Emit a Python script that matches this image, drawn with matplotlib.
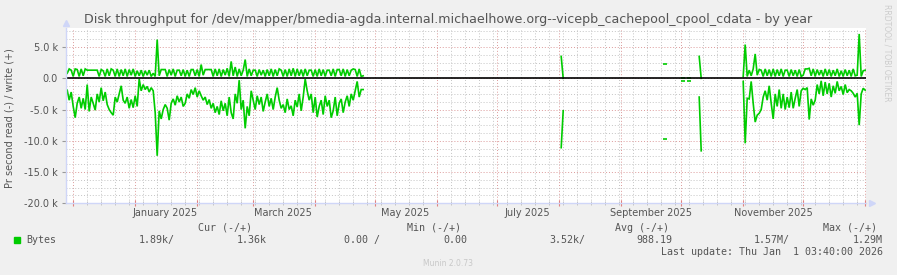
import numpy as np
import matplotlib.pyplot as plt
import matplotlib.dates as mdates
from matplotlib.patches import Rectangle
from matplotlib.ticker import MultipleLocator

W, H = 897, 275

# daily averages in k bytes/s, read is drawn below zero
start1 = "2024-11-28"
write1 = [0.8, 1.5, 1.3, 0.3, 1.5, 1.4, 0.3, 1.5, 0.4, 1.5,
          1.3, 1.3, 1.3, 1.3, 1.3, 1.3, 0.3, 1.4, 1.2, 0.3,
          1.5, 0.4, 1.5, 1.3, 0.3, 1.5, 0.3, 1.4, 0.4, 1.5,
          0.3, 1.4, 0.5, 1.5, 0.3, 1.2, 0.4, 1.3, 0.3, 1.2,
          0.5, 1.3, 0.3, 0.8, 0.3, 6.2, 0.4, 1.4, 1.4, 1.4,
          0.3, 1.4, 0.5, 1.5, 0.3, 1.3, 1.3, 0.4, 1.4, 0.3,
          1.3, 0.3, 1.4, 1.4, 0.4, 1.4, 0.3, 2.2, 0.5, 1.4,
          1.4, 1.4, 1.4, 0.3, 1.5, 0.4, 1.5, 0.3, 1.4, 0.5,
          1.6, 0.3, 2.7, 0.4, 1.8, 0.3, 1.5, 0.4, 1.3, 3.0,
          0.3, 1.5, 0.4, 1.3, 1.3, 0.3, 1.4, 0.5, 1.3, 0.3,
          1.4, 0.4, 1.5, 0.3, 1.4, 0.4, 1.5, 1.3, 0.3, 1.4,
          0.3, 1.5, 0.4, 1.6, 0.3, 1.5, 0.4, 1.4, 0.3, 1.5,
          0.4, 1.3, 1.3, 0.3, 1.4, 0.3, 1.5, 0.4, 1.4, 0.3,
          1.3, 1.3, 0.4, 1.5, 0.3, 1.4, 1.4, 0.4, 1.5, 0.3,
          1.4, 0.4, 1.3, 1.5, 1.4, 0.3, 1.5, 0.3, 0.4]
read1 = [1.9, 3.5, 2.2, 4.5, 6.3, 4.0, 3.0, 4.8, 3.2, 5.0,
         1.0, 5.3, 3.0, 4.0, 5.1, 2.5, 3.8, 1.5, 3.6, 2.2,
         4.2, 5.0, 5.5, 5.9, 3.0, 3.8, 2.5, 1.2, 3.5, 4.0,
         3.0, 4.8, 3.4, 4.7, 2.8, 4.5, 0.1, 2.0, 1.0, 1.8,
         1.3, 2.2, 1.5, 2.0, 5.5, 12.4, 5.2, 6.5, 5.0, 4.2,
         4.8, 6.7, 4.0, 3.3, 4.3, 2.8, 3.8, 3.0, 4.5, 4.0,
         2.5, 3.2, 1.8, 2.6, 1.5, 3.0, 2.0, 2.8, 3.5, 3.0,
         4.2, 3.4, 4.8, 4.0, 5.5, 4.5, 5.8, 3.6, 5.2, 4.0,
         6.0, 3.0, 5.5, 6.5, 2.5, 4.0, 0.3, 5.0, 3.5, 8.0,
         4.5, 6.0, 2.0, 3.5, 5.0, 2.8, 4.2, 3.0, 5.3, 3.8,
         2.5, 4.5, 3.2, 5.0, 3.0, 1.5, 3.5, 4.8, 4.2, 5.5,
         3.3, 5.0, 4.4, 6.0, 3.5, 4.6, 2.5, 5.2, 3.0, 0.1,
         2.0, 3.5, 2.5, 5.5, 3.0, 6.2, 4.5, 3.5, 5.8, 2.8,
         4.5, 3.5, 6.3, 5.2, 3.0, 6.0, 4.0, 3.3, 5.5, 3.8,
         2.8, 4.5, 2.5, 3.5, 2.0, 0.5, 3.0, 1.8, 1.8]

sparse_days = ["2025-08-02", "2025-08-03", "2025-09-23", "2025-10-02",
               "2025-10-05", "2025-10-10", "2025-10-11"]
sparse_write = [3.5, 0.0, 2.3, 0.0, 0.0, 3.5, 0.0]
sparse_read = [11.1, 5.2, 9.7, 0.5, 0.5, 3.0, 11.6]

start2 = "2025-11-01"
write2 = [0.3, 5.4, 0.3, 1.3, 0.4, 1.5, 3.9, 0.5, 1.4, 1.3,
          0.3, 1.5, 0.4, 1.4, 0.3, 1.5, 0.3, 1.4, 0.4, 1.5,
          0.3, 1.3, 1.3, 0.3, 1.4, 0.4, 1.3, 0.3, 1.4, 0.3,
          0.5, 1.5, 1.5, 1.6, 0.4, 1.5, 0.3, 1.4, 0.5, 1.3,
          0.3, 1.5, 0.4, 1.4, 0.3, 1.3, 0.4, 1.5, 0.3, 1.2,
          0.3, 1.4, 0.4, 1.3, 0.3, 1.5, 0.4, 0.5, 7.1, 0.3,
          1.2, 1.3]
read2 = [0.5, 10.4, 3.2, 3.3, 0.5, 4.0, 7.0, 5.9, 5.6, 5.0,
         3.0, 2.0, 3.5, 1.2, 4.0, 6.5, 2.5, 4.5, 1.8, 4.8,
         2.5, 5.0, 3.0, 4.7, 2.2, 4.8, 3.2, 1.8, 4.5, 2.0,
         1.6, 1.8, 1.5, 6.6, 3.3, 4.3, 3.5, 1.0, 2.5, 0.4,
         2.8, 0.6, 2.5, 0.8, 3.0, 1.2, 2.4, 0.5, 2.0, 1.3,
         2.6, 1.0, 2.3, 1.8, 2.0, 2.4, 3.0, 2.4, 7.5, 2.5,
         1.6, 1.9]

x_labels = ["January 2025", "March 2025", "May 2025", "July 2025",
            "September 2025", "November 2025"]
x_label_months = ["2025-01", "2025-03", "2025-05", "2025-07", "2025-09", "2025-11"]

legend_head = ["Cur (-/+)", "Min (-/+)", "Avg (-/+)", "Max (-/+)"]
legend_vals = ["1.89k/", "1.36k", "0.00 /", "0.00", "3.52k/", "988.19", "1.57M/", "1.29M"]

# put everything on one daily time axis
days = np.arange(np.datetime64("2024-11-28"), np.datetime64("2026-01-02"))
w = np.full(len(days), np.nan)
r = np.full(len(days), np.nan)

def put(start, wv, rv):
    i0 = int((np.datetime64(start) - days[0]).astype(int))
    w[i0:i0 + len(wv)] = wv
    r[i0:i0 + len(rv)] = rv

put(start1, write1, read1)
put(start2, write2, read2)
for d, a, b in zip(sparse_days, sparse_write, sparse_read):
    put(d, [a], [b])
w *= 1000
r *= -1000

GREEN = "#00CC00"
FONT = "#555555"
AXIS = "#CFD6F8"

fig = plt.figure(figsize=(W / 100, H / 100), dpi=100, facecolor="#F0F0F0")

def fx(x):
    return x / W

def fy(y):
    return 1 - y / H

left, right, top, bottom = 65.5, 865.5, 28.3, 203.3
ax = fig.add_axes([fx(left), fy(bottom), (right - left) / W, (bottom - top) / H])
ax.set_facecolor("white")

t0 = np.datetime64("2024-11-27T03:40")
t1 = np.datetime64("2026-01-01T03:40")
ax.set_xlim(t0, t1)
ax.set_ylim(-20000, 8000)

# grid like rrdtool: gray dotted minor, red dotted major
ax.xaxis.set_major_locator(mdates.MonthLocator())
ax.xaxis.set_minor_locator(mdates.WeekdayLocator(byweekday=mdates.SU))
ax.yaxis.set_major_locator(MultipleLocator(5000))
ax.yaxis.set_minor_locator(MultipleLocator(1250))
ax.grid(which="minor", color="#c4c4c4", linestyle=(0, (1, 2)), linewidth=0.7)
ax.grid(which="major", color="#dc9a9a", linestyle=(0, (1, 2)), linewidth=0.7)
ax.set_axisbelow(True)

ax.xaxis.set_major_formatter(plt.NullFormatter())
ax.tick_params(axis="x", which="major", direction="inout", length=4, color="#e08080", width=0.8)
ax.tick_params(axis="x", which="minor", direction="inout", length=3, color="#bbbbbb", width=0.6)
ax.tick_params(axis="y", which="major", direction="out", length=3, color="#999999", width=0.8,
               labelsize=7, labelcolor=FONT, pad=2.5)
ax.tick_params(axis="y", which="minor", length=0)

yt = np.arange(-20000, 5001, 5000)
ax.set_yticks(yt)
ax.set_yticklabels([("%.1f k" % (v / 1000)) if v != 0 else "0.0" for v in yt])

for s in ["top", "right"]:
    ax.spines[s].set_visible(False)
for s in ["left", "bottom"]:
    ax.spines[s].set_color(AXIS)
    ax.spines[s].set_linewidth(1)

ax.plot(days, w, color=GREEN, lw=1.2, solid_joinstyle="miter")
ax.plot(days, r, color=GREEN, lw=1.2, solid_joinstyle="miter")

# lone points get a short dash, like rrdtool does
for arr in (w, r):
    prev = np.r_[np.nan, arr[:-1]]
    nxt = np.r_[arr[1:], np.nan]
    lone = ~np.isnan(arr) & np.isnan(prev) & np.isnan(nxt)
    ax.plot(days[lone], arr[lone], ls="none", marker="_", ms=2.2, mew=1.2, color=GREEN)

ax.axhline(0, color="black", lw=1.2)

# axis arrows
ax.plot([0], [1.03], marker="^", ms=4, color=AXIS, transform=ax.transAxes, clip_on=False)
ax.plot([1.008], [0], marker=">", ms=4, color=AXIS, transform=ax.transAxes, clip_on=False)

xt = ax.get_xaxis_transform()
for lab, m in zip(x_labels, x_label_months):
    mid = np.datetime64(m + "-16")
    ax.text(mid, -0.054, lab, transform=xt, ha="center", va="center", fontsize=7, color=FONT)

fig.text(fx(448.5), fy(19), "Disk throughput for /dev/mapper/bmedia-agda.internal.michaelhowe.org--vicepb_cachepool_cpool_cdata - by year",
         ha="center", va="center", fontsize=9.1, color=FONT)
fig.text(fx(10), fy(118), "Pr second read (-) / write (+)", rotation=90,
         ha="center", va="center", fontsize=7, color=FONT)
fig.text(fx(887), fy(4), "RRDTOOL / TOBI OETIKER", rotation=270,
         ha="center", va="top", fontsize=5.5, color="#cccccc")

mono = "DejaVu Sans Mono"
for txt, x in zip(legend_head, [198, 407, 615, 823]):
    fig.text(fx(x), fy(227.7), txt, family=mono, fontsize=7.2, color=FONT, va="center")
fig.patches.append(Rectangle((fx(14), fy(243)), 6 / W, 6 / H, color=GREEN, transform=fig.transFigure))
fig.text(fx(26), fy(239.7), "Bytes", family=mono, fontsize=7.2, color=FONT, va="center")
for txt, x in zip(legend_vals, [139, 237, 344, 443, 549, 636, 754, 853]):
    fig.text(fx(x), fy(239.7), txt, family=mono, fontsize=7.2, color=FONT, va="center")
fig.text(fx(883), fy(251.7), "Last update: Thu Jan  1 03:40:00 2026", family=mono,
         fontsize=7.2, color=FONT, va="center", ha="right")
fig.text(fx(448), fy(263.7), "Munin 2.0.73", fontsize=5.5, color="#c8c8c8", ha="center", va="center")

fig.savefig("out.png", dpi=100, facecolor=fig.get_facecolor())
